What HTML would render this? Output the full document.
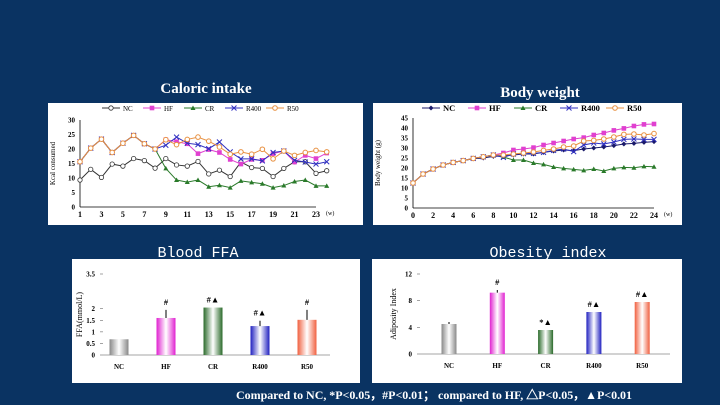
<!DOCTYPE html>
<html><head><meta charset="utf-8"><style>
body{margin:0;width:720px;height:405px;background:#0a3362;overflow:hidden;font-family:"Liberation Serif",serif}
svg{position:absolute;left:0;top:0}
</style></head><body>
<svg id="s" width="720" height="405"></svg>
<script>
const weeks1=[1,2,3,4,5,6,7,8,9,10,11,12,13,14,15,16,17,18,19,20,21,22,23,24];
const ciNC=[9.3,13,10.2,14.8,14.1,16.7,16,13.4,16.7,14.5,14.1,15.7,11.4,12.7,10.5,15.5,13.6,13.3,10.5,13.3,15.6,15.6,11.6,12.5];
const ciHF=[15.6,20.3,23.4,18.8,22,24.7,21.8,20,23.2,22.5,21.8,18.4,19.8,18.8,16.4,14.8,16.4,16.1,18.4,19.3,15.5,17.8,16.7,18.6];
const ciCR=[15.6,20.3,23.4,18.8,22,24.7,21.8,20,13.3,9.3,8.6,9.3,7,7.5,6.7,9,8.5,8,6.7,7.4,8.8,9.3,7.3,7.3];
const ciR400=[15.6,20.3,23.4,18.8,22,24.7,21.8,20,21.3,24.1,22,21.5,20.1,22.4,19,16.6,16.6,15.9,18.8,19.3,16.1,15.5,14.8,15.6];
const ciR50=[15.6,20.3,23.4,18.8,22,24.7,21.8,20,23.2,21.5,23.3,24.1,22.7,20.7,18.2,19,18.2,19.9,16.6,19.3,17.8,18.8,19.5,19];
const ciYTicks=[0,5,10,15,20,25,30];
const ciXTicks=[1,3,5,7,9,11,13,15,17,19,21,23];
const weeks2=[0,1,2,3,4,5,6,7,8,9,10,11,12,13,14,15,16,17,18,19,20,21,22,23,24];
const bwNC=[12.5,17,19.5,21.5,22.8,23.7,24.6,25,25.8,26,26.5,27,27,27.8,28.5,29,28.7,29.5,30,30.5,31.2,32,32.3,32.8,33.2];
const bwHF=[12.5,17,19.5,21.5,22.8,23.7,24.8,25.6,26.5,27.5,29,29.5,30.2,31.5,32.5,33.5,34.5,35.2,36.5,37.5,38.8,39.8,41,41.8,42];
const bwCR=[12.5,17,19.5,21.5,22.8,23.7,24.8,25.6,26.5,25.5,24,24,22.5,21.8,20.5,19.8,19.3,18.8,19.5,18.5,19.8,20.3,20.1,20.8,20.6];
const bwR400=[12.5,17,19.5,21.5,22.8,23.7,24.8,25.6,26.5,25.3,27,27.2,27.3,27.8,28.8,29.5,28.2,31.5,32.5,32,33,34.3,34.5,34.3,34.3];
const bwR50=[12.5,17,19.5,21.5,22.8,23.7,24.8,25.6,26.5,26.5,27,27.5,28,28.8,29.5,30.5,31,33.5,33.8,34.5,35.5,36.8,37,36.5,37.2];
const bwYTicks=[0,5,10,15,20,25,30,35,40,45];
const bwXTicks=[0,2,4,6,8,10,12,14,16,18,20,22,24];
const groups=["NC","HF","CR","R400","R50"];
const ffaVals=[0.68,1.6,2.05,1.25,1.52];
const ffaErr=[0,0.35,0,0.23,0.43];
const ffaMarks=["","#","#▲","#▲","#"];
const ffaYTicks=["0","0.5","1","1.5","2","3.5"];
const ffaYVals=[0,0.5,1,1.5,2,3.5];
const obVals=[4.5,9.2,3.6,6.3,7.8];
const obErr=[0.3,0.4,0,0,0];
const obMarks=["","#","*▲","#▲","#▲"];
const obYTicks=[0,4,8,12];

const NS="http://www.w3.org/2000/svg";
const S=document.getElementById('s');
function el(t,a,p){const e=document.createElementNS(NS,t);for(const k in a)e.setAttribute(k,a[k]);(p||S).appendChild(e);return e;}
function tx(x,y,s,a,p){const e=el('text',Object.assign({x:x,y:y},a),p);e.textContent=s;return e;}

let t;
t=tx(206,93,"Caloric intake",{fill:"#fff","font-size":15,"font-weight":"bold","text-anchor":"middle"});

t=tx(540,97,"Body weight",{fill:"#fff","font-size":15,"font-weight":"bold","text-anchor":"middle"});

t=tx(198,257,"Blood FFA",{fill:"#fff","font-size":15,"font-family":"Liberation Mono,monospace","text-anchor":"middle"});

t=tx(548,257,"Obesity index",{fill:"#fff","font-size":15,"font-family":"Liberation Mono,monospace","text-anchor":"middle"});

t=tx(434,399,"Compared to NC, *P<0.05，#P<0.01； compared to HF, △P<0.05，▲P<0.01",{fill:"#fff","font-size":12,"font-weight":"bold","text-anchor":"middle",textLength:396});


const colors={NC:"#333",HF:"#e040d0",CR:"#2a7a2a",R400:"#3030c0",R50:"#e89040"};
function marker(g,name,x,y,filledNC){
  let m;
  if(name=="NC"&&filledNC)m=el('path',{d:`M${x} ${y-2.5}L${x+2.5} ${y}L${x} ${y+2.5}L${x-2.5} ${y}Z`,fill:"#1a1a6a"},g);
  else if(name=="NC")m=el('circle',{cx:x,cy:y,r:2.2,fill:"#fff",stroke:"#333","stroke-width":0.8},g);
  else if(name=="HF")m=el('rect',{x:x-2.3,y:y-2.3,width:4.6,height:4.6,fill:"#e040d0"},g);
  else if(name=="CR")m=el('path',{d:`M${x} ${y-2.5}L${x+2.5} ${y+2}L${x-2.5} ${y+2}Z`,fill:"#2a7a2a"},g);
  else if(name=="R400")m=el('path',{d:`M${x-2.5} ${y-2.5}L${x+2.5} ${y+2.5}M${x+2.5} ${y-2.5}L${x-2.5} ${y+2.5}`,stroke:"#3030c0","stroke-width":1},g);
  else m=el('circle',{cx:x,cy:y,r:2.3,fill:"#fff",stroke:"#e89040","stroke-width":1},g);
  
}
function lineChart(cfg){
  const g=el('g',{});
  
  const bg=el('rect',{x:cfg.px,y:cfg.py,width:cfg.pw,height:cfg.ph,fill:"#fff"},g);
  
  const X=v=>cfg.x0+(v-cfg.xmin)/(cfg.xmax-cfg.xmin)*(cfg.x1-cfg.x0);
  const Y=v=>cfg.y0-(v-cfg.ymin)/(cfg.ymax-cfg.ymin)*(cfg.y0-cfg.y1);
  el('line',{x1:cfg.x0,y1:cfg.y0,x2:X(cfg.xmax),y2:cfg.y0,stroke:"#000","stroke-width":0.8},g);
  el('line',{x1:cfg.x0,y1:cfg.y0,x2:cfg.x0,y2:Y(cfg.ymax),stroke:"#000","stroke-width":0.8},g);
  cfg.yt.forEach(v=>{const e=tx(cfg.x0-5,Y(v)+2.5,v,{"font-size":7,"font-weight":"bold","text-anchor":"end"},g);});
  cfg.xt.forEach(v=>{const e=tx(X(v),cfg.y0+10,v,{"font-size":8,"font-weight":"bold","text-anchor":"middle"},g);});
  tx(X(cfg.xmax)+10,cfg.y0+8,"(w)",{"font-size":6},g);
  const yt=tx(0,0,cfg.ytitle,{"font-size":7,"text-anchor":"middle",transform:`translate(${cfg.px+7},${(cfg.y0+cfg.y1)/2}) rotate(-90)`},g);
  
  cfg.series.forEach(([name,vals])=>{
    const sg=el('g',{},g);
    
    const col=(name=="NC"&&cfg.filledNC)?"#1a1a6a":colors[name];
    const pts=vals.map((v,i)=>X(cfg.xs[i])+","+Y(v)).join(" ");
    el('polyline',{points:pts,fill:"none",stroke:col,"stroke-width":1},sg);
    vals.forEach((v,i)=>marker(sg,name,X(cfg.xs[i]),Y(v),cfg.filledNC));
  });
  const lg=el('g',{},g);
  cfg.series.forEach(([name],i)=>{
    const lx=cfg.lx+i*cfg.ld, ly=cfg.ly;
    const col=(name=="NC"&&cfg.filledNC)?"#1a1a6a":colors[name];
    el('line',{x1:lx,y1:ly,x2:lx+18,y2:ly,stroke:col,"stroke-width":1},lg);
    marker(lg,name,lx+9,ly,cfg.filledNC);
    const e=tx(lx+21,ly+3,name,{"font-size":cfg.lfs,"font-weight":cfg.lfw},lg);
    
  });
}
lineChart({name:"caloric-intake-chart",px:48,py:103,pw:315,ph:122,x0:80,x1:316,xmin:1,xmax:23,y0:207,y1:120,ymin:0,ymax:30,
  xs:weeks1,yt:ciYTicks,xt:ciXTicks,ytitle:"Kcal consumed",lx:102,ly:108,ld:41,lfs:7,lfw:"normal",filledNC:false,
  series:[["NC",ciNC],["HF",ciHF],["CR",ciCR],["R400",ciR400],["R50",ciR50]]});
lineChart({name:"body-weight-chart",px:373,py:103,pw:309,ph:122,x0:413,x1:654,xmin:0,xmax:24,y0:208,y1:118,ymin:0,ymax:45,
  xs:weeks2,yt:bwYTicks,xt:bwXTicks,ytitle:"Body weight (g)",lx:422,ly:108,ld:46,lfs:8.5,lfw:"bold",filledNC:true,
  series:[["NC",bwNC],["HF",bwHF],["CR",bwCR],["R400",bwR400],["R50",bwR50]]});

const barCols=[["#888","#fff"],["#e020d0","#fff"],["#2a6a2a","#fff"],["#2020c0","#fff"],["#f06040","#fff"]];
const defs=el('defs',{});
barCols.forEach((c,i)=>{const lg=el('linearGradient',{id:'g'+i,x1:0,x2:1,y1:0,y2:0},defs);
  el('stop',{offset:"0","stop-color":c[0]},lg);el('stop',{offset:"0.5","stop-color":c[1]},lg);el('stop',{offset:"1","stop-color":c[0]},lg);});
function barChart(cfg){
  const g=el('g',{});
  
  const bg=el('rect',{x:cfg.px,y:cfg.py,width:cfg.pw,height:cfg.ph,fill:"#fff"},g);
  
  const Y=v=>cfg.y0-v/cfg.ymax*(cfg.y0-cfg.y1);
  el('line',{x1:cfg.ax,y1:cfg.y0,x2:cfg.ax2,y2:cfg.y0,stroke:"#888","stroke-width":0.8},g);
  cfg.ytv.forEach((v,i)=>{const e=tx(cfg.tx,Y(v)+2.5,cfg.ytl[i],{"font-size":7,"font-weight":"bold","text-anchor":"end"},g);
    el('line',{x1:cfg.tx+5,y1:Y(v),x2:cfg.tx+8,y2:Y(v),stroke:"#666","stroke-width":0.6},g);});
  if(cfg.ytitle){const e=tx(0,0,cfg.ytitle,{"font-size":8,"text-anchor":"middle",transform:`translate(${cfg.ytx},${(cfg.y0+cfg.y1)/2}) rotate(-90)`},g);}
  cfg.vals.forEach((v,i)=>{
    const cx=cfg.cx0+i*cfg.step;
    const r=el('rect',{x:cx-cfg.bw/2,y:Y(v),width:cfg.bw,height:cfg.y0-Y(v),fill:`url(#g${i})`},g);
    
    if(cfg.err[i]>0)el('line',{x1:cx,y1:Y(v),x2:cx,y2:Y(v+cfg.err[i]),stroke:"#000","stroke-width":1},g);
    if(cfg.marks[i]){const m=tx(cx,Y(v+cfg.err[i])-5,cfg.marks[i],{"font-size":8.5,"font-weight":"bold","text-anchor":"middle"},g);}
    const l=tx(cx,cfg.y0+14,groups[i],{"font-size":7,"font-weight":"bold","text-anchor":"middle"},g);
    
  });
}
barChart({name:"blood-ffa-chart",px:72,py:259,pw:288,ph:124,y0:355,y1:274,ymax:3.5,ax:103,ax2:330,tx:95,
  ytv:ffaYVals,ytl:ffaYTicks,ytitle:"FFA(mmol/L)",ytx:82,vals:ffaVals,err:ffaErr,marks:ffaMarks,cx0:119,step:47,bw:19});
barChart({name:"obesity-index-chart",px:372,py:259,pw:310,ph:124,y0:354,y1:274,ymax:12,ax:420,ax2:670,tx:412,
  ytv:obYTicks,ytl:obYTicks,ytitle:"Adiposity Index",ytx:396,vals:obVals,err:obErr,marks:obMarks,cx0:449,step:48.3,bw:15});
</script>
</body></html>
